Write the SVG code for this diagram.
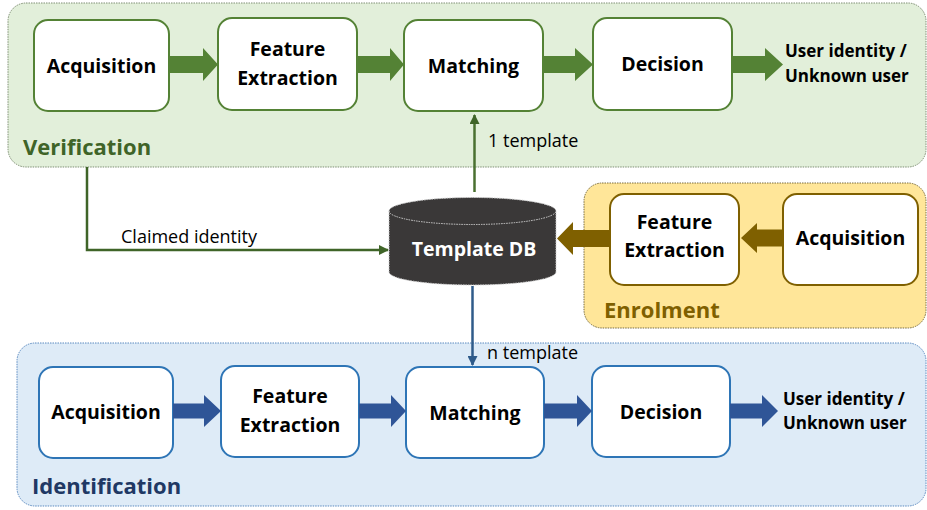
<svg xmlns="http://www.w3.org/2000/svg" width="927" height="510" viewBox="0 0 927 510">
<defs>
<style>
.cont{stroke-width:1;stroke-dasharray:1.5 1}
.node{fill:#ffffff;stroke-width:2}
.vn{stroke:#548235}
.en{stroke:#7f6000}
.idn{stroke:#2e75b6}
.lbl{font-family:"Open Sans","DejaVu Sans",sans-serif;font-weight:bold;font-size:19.5px;fill:#000000;text-anchor:middle}
.out{font-family:"Open Sans","DejaVu Sans",sans-serif;font-weight:bold;font-size:17px;fill:#000000}
.head{font-family:"Open Sans","DejaVu Sans",sans-serif;font-weight:bold;font-size:22px}
.reg{font-family:"Open Sans","DejaVu Sans",sans-serif;font-size:18px;fill:#000000}
</style>
<marker id="mg" viewBox="0 0 10 10" refX="9" refY="5" markerWidth="4" markerHeight="4" orient="auto" markerUnits="strokeWidth">
<path d="M0,0 L10,5 L0,10 z" fill="#3f6428"/>
</marker>
<marker id="mb" viewBox="0 0 10 10" refX="9" refY="5" markerWidth="4" markerHeight="4" orient="auto" markerUnits="strokeWidth">
<path d="M0,0 L10,5 L0,10 z" fill="#2f5b8a"/>
</marker>
</defs>

<g id="verification">
<rect class="cont" x="8" y="3" width="918" height="164" rx="18" fill="#e2efda" stroke="#7f8f74"/>
<text class="head" x="23" y="155" fill="#3f6428">Verification</text>
</g>
<g id="enrolment">
<rect class="cont" x="584" y="183" width="342" height="145" rx="18" fill="#ffe699" stroke="#7a6d40"/>
<text class="head" x="604" y="318" fill="#7f6000">Enrolment</text>
</g>
<g id="identification">
<rect class="cont" x="17" y="343" width="909" height="163" rx="18" fill="#deebf7" stroke="#5b8ac0"/>
<text class="head" x="32" y="494" fill="#203864">Identification</text>
</g>

<g id="v-acq"><rect class="node vn" x="34" y="20" width="135" height="91" rx="14"/><text class="lbl" x="101.5" y="73">Acquisition</text></g>
<g id="v-fe"><rect class="node vn" x="218" y="18" width="139" height="92" rx="14"/><text class="lbl" x="287.5" y="56">Feature</text><text class="lbl" x="287.5" y="85">Extraction</text></g>
<g id="v-match"><rect class="node vn" x="404" y="20" width="139" height="91" rx="14"/><text class="lbl" x="473.5" y="73">Matching</text></g>
<g id="v-dec"><rect class="node vn" x="593" y="18" width="139" height="92" rx="14"/><text class="lbl" x="662.5" y="71">Decision</text></g>
<g id="v-out"><text class="out" x="785" y="57">User identity /</text><text class="out" x="785" y="82">Unknown user</text></g>

<g id="e-fe"><rect class="node en" x="610" y="194" width="129" height="91" rx="14"/><text class="lbl" x="674.5" y="229">Feature</text><text class="lbl" x="674.5" y="257">Extraction</text></g>
<g id="e-acq"><rect class="node en" x="783" y="194" width="135" height="91" rx="14"/><text class="lbl" x="850.5" y="245">Acquisition</text></g>

<g id="i-acq"><rect class="node idn" x="39" y="367" width="134" height="91" rx="14"/><text class="lbl" x="106" y="419">Acquisition</text></g>
<g id="i-fe"><rect class="node idn" x="221" y="366" width="138" height="91" rx="14"/><text class="lbl" x="290" y="403">Feature</text><text class="lbl" x="290" y="432">Extraction</text></g>
<g id="i-match"><rect class="node idn" x="406" y="367" width="138" height="91" rx="14"/><text class="lbl" x="475" y="420">Matching</text></g>
<g id="i-dec"><rect class="node idn" x="592" y="366" width="138" height="91" rx="14"/><text class="lbl" x="661" y="419">Decision</text></g>
<g id="i-out"><text class="out" x="783" y="405">User identity /</text><text class="out" x="783" y="429">Unknown user</text></g>

<g id="db">
<path d="M389,211 L389,272 A83.5,13 0 0 0 556,272 L556,211 A83.5,13.5 0 0 0 389,211 Z" fill="#3a3838" stroke="#d0d0d0" stroke-width="1" stroke-dasharray="1.5 1"/>
<path d="M389,211 A83.5,13.5 0 0 0 556,211" fill="none" stroke="#d0d0d0" stroke-width="1" stroke-dasharray="1.5 1"/>
<text class="lbl" x="474" y="256" fill="#ffffff" style="fill:#ffffff">Template DB</text>
</g>

<g id="connectors">
<g fill="#548235">
<polygon points="169,56 203,56 203,48 218,64.5 203,81 203,73 169,73"/>
<polygon points="357,56 390,56 390,48 404,64.5 390,81 390,73 357,73"/>
<polygon points="543,56 575,56 575,48 593,64.5 575,81 575,73 543,73"/>
<polygon points="732,56 765,56 765,48 783,64.5 765,81 765,73 732,73"/>
</g>
<g fill="#2f5597">
<polygon points="173,403.5 204,403.5 204,395 221,411 204,427 204,418.5 173,418.5"/>
<polygon points="359,403.5 391,403.5 391,395 406,411 391,427 391,418.5 359,418.5"/>
<polygon points="544,403.5 577,403.5 577,395 592,411 577,427 577,418.5 544,418.5"/>
<polygon points="730,403.5 762,403.5 762,395 778,411 762,427 762,418.5 730,418.5"/>
</g>
<g fill="#7f6000">
<polygon points="783,229.5 757,229.5 757,223 741,238 757,253 757,246.5 783,246.5"/>
<polygon points="610,230 573,230 573,222 557,238.5 573,255 573,247 610,247"/>
</g>
<path d="M87,167 L87,250 L388,250" fill="none" stroke="#3f6428" stroke-width="2.5" marker-end="url(#mg)"/>
<path d="M474.5,192 L474.5,115" fill="none" stroke="#4a7030" stroke-width="2.5" marker-end="url(#mg)"/>
<path d="M472.5,286 L472.5,365" fill="none" stroke="#2f5b8a" stroke-width="2.5" marker-end="url(#mb)"/>
<text class="reg" x="121" y="243">Claimed identity</text>
<text class="reg" x="488" y="147">1 template</text>
<text class="reg" x="487" y="359">n template</text>
</g>
</svg>
